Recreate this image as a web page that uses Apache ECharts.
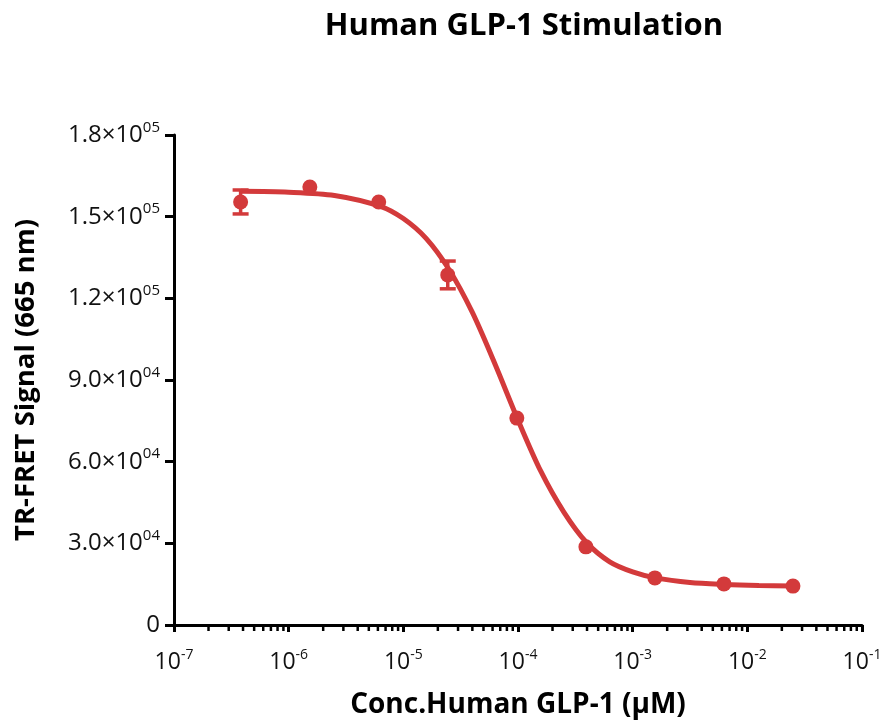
<!DOCTYPE html>
<html>
<head>
<meta charset="utf-8">
<script src="https://cdn.jsdelivr.net/npm/echarts@6/dist/echarts.min.js"></script>
<style>html,body{margin:0;padding:0;background:#fff;}#chart{width:889px;height:721px;}</style>
</head>
<body>
<div id="chart"></div>
<script>
// Measured data points (concentration in µM, TR-FRET signal)
const concentrations = [3.81e-7, 1.53e-6, 6.10e-6, 2.44e-5, 9.77e-5, 3.91e-4, 1.5625e-3, 6.25e-3, 2.5e-2];
const signals = [155400, 160900, 155400, 128600, 76000, 28700, 17300, 15100, 14300];
const errors = [4400, 0, 0, 5100, 0, 0, 0, 0, 0];

// Fitted curve (x in µM, y signal)
const curveX = [3.84e-7, 1e-6, 2.51e-6, 6.31e-6, 1e-5, 1.58e-5, 2.51e-5, 3.98e-5, 6.31e-5, 1e-4, 1.58e-4, 2.51e-4, 3.98e-4, 6.31e-4, 1e-3, 1.58e-3, 3.16e-3, 6.31e-3, 1.26e-2, 2.5e-2];
const curveY = [159300, 159000, 157800, 153800, 149300, 142000, 130500, 115000, 95800, 75300, 56500, 41500, 30200, 23200, 19500, 17300, 15600, 14900, 14500, 14300];

const xDecades = [1e-7, 1e-6, 1e-5, 1e-4, 1e-3, 1e-2, 1e-1];
const yTicks = [0, 30000, 60000, 90000, 120000, 150000, 180000];

const titleText = 'Human GLP-1 Stimulation';
const xTitle = 'Conc.Human GLP-1 (\u03bcM)';
const yTitle = 'TR-FRET Signal (665 nm)';

const RED = '#d33a3b';
const FONT = 'Open Sans';

// minor tick positions (2..9 per decade)
const minorTicks = [];
for (let k = 0; k < xDecades.length - 1; k++) {
  for (let m = 2; m <= 9; m++) minorTicks.push([m * xDecades[k], 0]);
}

const chart = echarts.init(document.getElementById('chart'));

function yFmt(v) {
  if (v === 0) return '{b|0}';
  const e = Math.floor(Math.log10(v) + 1e-9);
  const mant = (v / Math.pow(10, e)).toFixed(1);
  return '{b|' + mant + '\u00d710}{s|' + String(e).padStart(2, '0') + '}';
}
function xFmt(v) {
  const e = Math.round(Math.log10(v));
  return '{b|10}{s|' + e + '}';
}

chart.setOption({
  animation: false,
  backgroundColor: '#fff',
  title: {
    text: titleText,
    left: 519, top: 6, textAlign: 'center',
    textStyle: { fontFamily: FONT, fontSize: 31, fontWeight: 'bold', color: '#000' }
  },
  grid: { left: 174, right: 27, top: 135, bottom: 96, containLabel: false, outerBoundsMode: 'none' },
  xAxis: {
    type: 'log', logBase: 10, min: 1e-7, max: 1e-1,
    name: xTitle, nameLocation: 'middle', nameGap: 66,
    nameTextStyle: { fontFamily: FONT, fontSize: 28, fontWeight: 'bold', color: '#000' },
    axisLine: { lineStyle: { color: '#000', width: 3 } },
    axisTick: { show: true, length: 7, lineStyle: { color: '#000', width: 3 } },
    splitLine: { show: false },
    minorTick: { show: false },
    axisLabel: {
      margin: 23,
      formatter: xFmt,
      rich: {
        b: { fontFamily: FONT, fontSize: 23, color: '#111' },
        s: { fontFamily: FONT, fontSize: 14, color: '#111', verticalAlign: 'top', padding: [0, 0, 15, 0] }
      }
    }
  },
  yAxis: {
    type: 'value', min: 0, max: 180000, interval: 30000,
    name: yTitle, nameLocation: 'middle', nameGap: 134, nameRotate: 90,
    nameTextStyle: { fontFamily: FONT, fontSize: 27.5, fontWeight: 'bold', color: '#000' },
    axisLine: { show: true, lineStyle: { color: '#000', width: 3 } },
    axisTick: { show: true, length: 9, lineStyle: { color: '#000', width: 3 } },
    splitLine: { show: false },
    axisLabel: {
      margin: 14,
      formatter: yFmt,
      rich: {
        b: { fontFamily: FONT, fontSize: 24, color: '#111' },
        s: { fontFamily: FONT, fontSize: 15, color: '#111', verticalAlign: 'top', padding: [0, 0, 15, 0] }
      }
    }
  },
  series: [
    {
      type: 'custom', name: 'minorTicks', silent: true, z: 5,
      data: minorTicks,
      renderItem: function (params, api) {
        const p = api.coord([api.value(0), 0]);
        return { type: 'line', shape: { x1: p[0], y1: p[1], x2: p[0], y2: p[1] + 6 }, style: { stroke: '#000', lineWidth: 2.5 } };
      }
    },
    {
      type: 'line', name: 'fit', data: curveX.map((x, i) => [x, curveY[i]]),
      smooth: 0.3, showSymbol: false, symbol: 'none',
      lineStyle: { color: RED, width: 5 }, z: 3
    },
    {
      type: 'custom', name: 'errors', z: 4,
      data: concentrations.map((x, i) => [x, signals[i] - errors[i], signals[i] + errors[i]]),
      renderItem: function (params, api) {
        if (api.value(2) - api.value(1) <= 0) return { type: 'group', children: [] };
        const lo = api.coord([api.value(0), api.value(1)]);
        const hi = api.coord([api.value(0), api.value(2)]);
        const w = 8;
        const st = { stroke: RED, lineWidth: 3.5 };
        return {
          type: 'group', children: [
            { type: 'line', shape: { x1: lo[0], y1: lo[1], x2: hi[0], y2: hi[1] }, style: st },
            { type: 'line', shape: { x1: lo[0] - w, y1: lo[1], x2: lo[0] + w, y2: lo[1] }, style: st },
            { type: 'line', shape: { x1: hi[0] - w, y1: hi[1], x2: hi[0] + w, y2: hi[1] }, style: st }
          ]
        };
      }
    },
    {
      type: 'scatter', name: 'data', data: concentrations.map((x, i) => [x, signals[i]]),
      symbol: 'circle', symbolSize: 15, itemStyle: { color: RED, opacity: 1 }, z: 6
    }
  ]
});
</script>
</body>
</html>
